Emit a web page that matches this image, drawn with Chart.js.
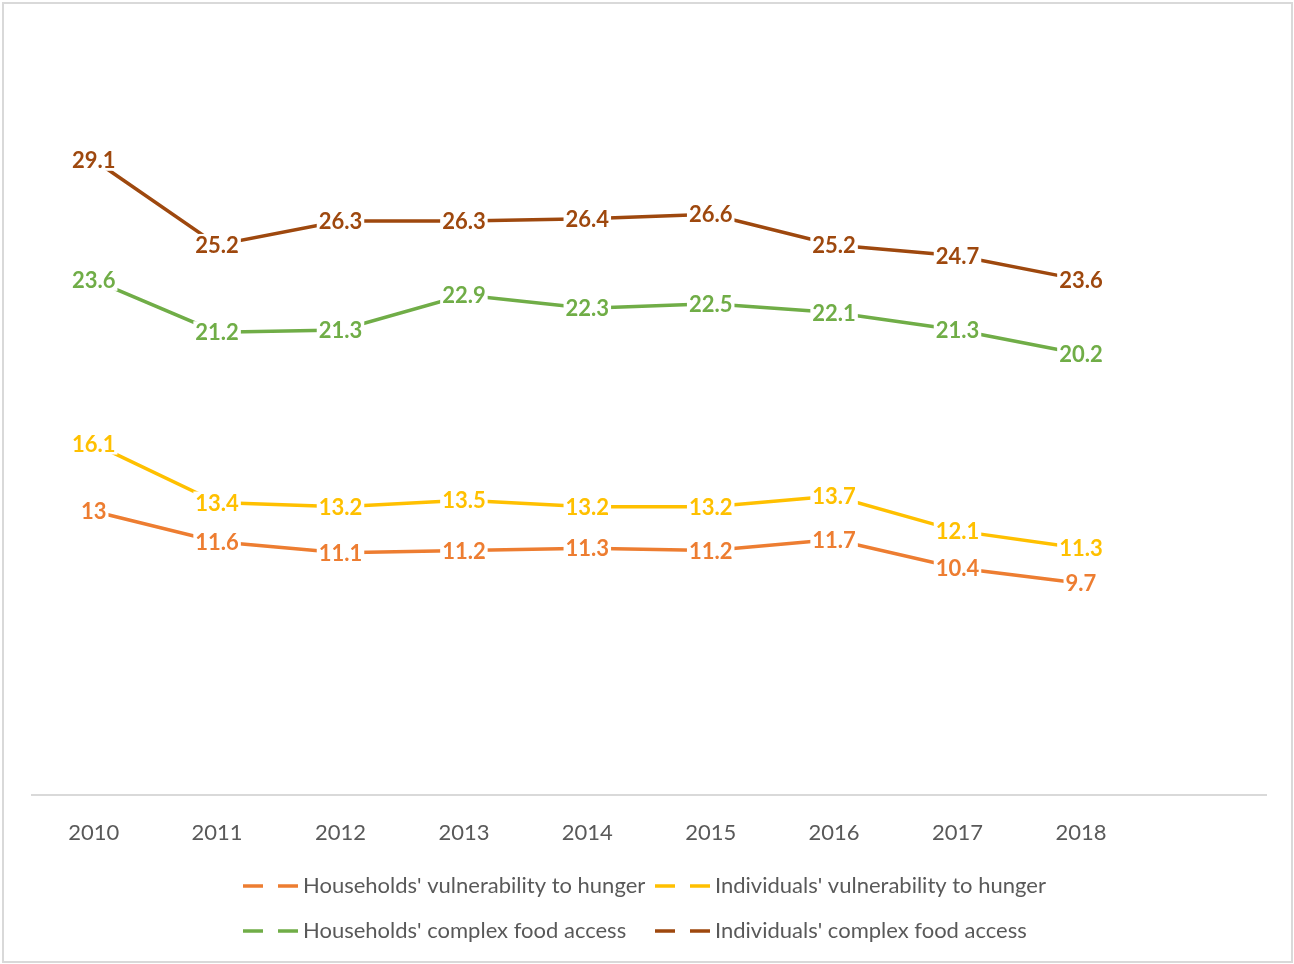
<!DOCTYPE html>
<html>
<head>
<meta charset="utf-8">
<script src="https://cdn.jsdelivr.net/npm/chart.js@4"></script>
<style>
  html, body { margin: 0; padding: 0; background: #fff; }
  #wrap { width: 1294px; height: 964px; position: relative; }
</style>
</head>
<body>
<div id="wrap"><canvas id="myChart" width="1294" height="964"></canvas></div>
<script>
// years on the x axis (last slot left empty)
const years = ["2010", "2011", "2012", "2013", "2014", "2015", "2016", "2017", "2018", ""];

const hhHunger = [13, 11.6, 11.1, 11.2, 11.3, 11.2, 11.7, 10.4, 9.7];
const indHunger = [16.1, 13.4, 13.2, 13.5, 13.2, 13.2, 13.7, 12.1, 11.3];
const hhFood = [23.6, 21.2, 21.3, 22.9, 22.3, 22.5, 22.1, 21.3, 20.2];
const indFood = [29.1, 25.2, 26.3, 26.3, 26.4, 26.6, 25.2, 24.7, 23.6];

const seriesNames = [
  "Households' vulnerability to hunger",
  "Individuals' vulnerability to hunger",
  "Households' complex food access",
  "Individuals' complex food access",
];
const seriesColors = ["#ED7D31", "#FFC000", "#70AD47", "#9E480E"];

const FONT = "Lato, 'Open Sans', sans-serif";

function makeSet(i, values) {
  return {
    label: seriesNames[i],
    data: values,
    borderColor: seriesColors[i],
    backgroundColor: seriesColors[i],
    borderWidth: 3.5,
    pointRadius: 0,
    tension: 0,
  };
}

// value labels centred on each point, on a white box that hides the line
const valueLabels = {
  id: "valueLabels",
  afterDatasetsDraw(chart) {
    const ctx = chart.ctx;
    ctx.save();
    ctx.font = "bold 22px " + FONT;
    ctx.textAlign = "center";
    ctx.textBaseline = "middle";
    chart.data.datasets.forEach((ds, i) => {
      const meta = chart.getDatasetMeta(i);
      meta.data.forEach((pt, j) => {
        if (ds.data[j] == null) return;
        const txt = String(ds.data[j]);
        const w = ctx.measureText(txt).width + 4;
        const h = 22;
        ctx.fillStyle = "#fff";
        ctx.fillRect(pt.x - w / 2, pt.y - h / 2, w, h);
        ctx.fillStyle = ds.borderColor;
        ctx.fillText(txt, pt.x, pt.y + 1);
      });
    });
    ctx.restore();
  },
};

// two-column legend with dashed keys, plus the outer frame
const legendFrame = {
  id: "legendFrame",
  afterDraw(chart) {
    const ctx = chart.ctx;
    ctx.save();
    ctx.strokeStyle = "#d9d9d9";
    ctx.lineWidth = 2;
    ctx.strokeRect(3, 3, chart.width - 5, chart.height - 5);

    const cols = [243, 655];
    const rows = [886, 931];
    ctx.font = "22px " + FONT;
    ctx.textBaseline = "middle";
    ctx.textAlign = "left";
    chart.data.datasets.forEach((ds, i) => {
      const x = cols[i % 2];
      const y = rows[Math.floor(i / 2)];
      ctx.strokeStyle = ds.borderColor;
      ctx.lineWidth = 3.5;
      ctx.beginPath();
      ctx.moveTo(x, y);
      ctx.lineTo(x + 20, y);
      ctx.moveTo(x + 35, y);
      ctx.lineTo(x + 55, y);
      ctx.stroke();
      ctx.fillStyle = "#595959";
      ctx.fillText(ds.label, x + 60, y);
    });
    ctx.restore();
  },
};

new Chart(document.getElementById("myChart"), {
  type: "line",
  data: {
    labels: years,
    datasets: [
      makeSet(0, hhHunger),
      makeSet(1, indHunger),
      makeSet(2, hhFood),
      makeSet(3, indFood),
    ],
  },
  options: {
    responsive: false,
    animation: false,
    layout: { padding: { left: 32, right: 28, top: 31, bottom: 0 } },
    plugins: {
      legend: { display: false },
      tooltip: { enabled: false },
    },
    scales: {
      x: {
        offset: true,
        grid: { display: false, drawTicks: false },
        border: { display: true, color: "#d9d9d9", width: 2 },
        ticks: {
          color: "#595959",
          font: { family: FONT, size: 22 },
          padding: 25,
          maxRotation: 0,
          autoSkip: false,
        },
        afterFit(scale) {
          scale.height = 169;
        },
      },
      y: {
        display: false,
        min: 0,
        max: 35,
      },
    },
  },
  plugins: [valueLabels, legendFrame],
});
</script>
</body>
</html>
